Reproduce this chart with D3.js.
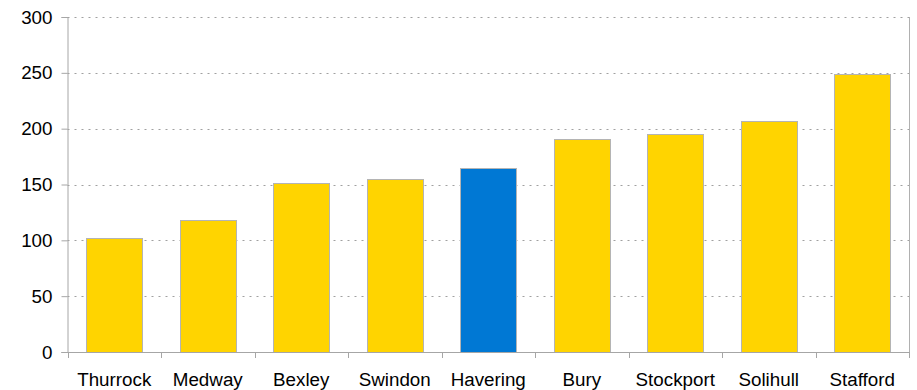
<!DOCTYPE html>
<html>
<head>
<meta charset="utf-8">
<script src="https://cdn.jsdelivr.net/npm/d3@7"></script>
<style>
  html, body { margin: 0; padding: 0; background: #fff; }
  svg { display: block; font-family: "Liberation Sans", Arial, sans-serif; }
</style>
</head>
<body>
<svg id="chart" width="917" height="390"></svg>
<script>
// Areas and their values
const categories = ["Thurrock", "Medway", "Bexley", "Swindon", "Havering", "Bury", "Stockport", "Solihull", "Stafford"];
const values = [102, 118, 151, 155, 165, 191, 195, 207, 249];
const highlight = "Havering";
const yTicks = [0, 50, 100, 150, 200, 250, 300];

const svg = d3.select("#chart");
const margin = { left: 67.5, right: 8, top: 17, bottom: 38 };
const W = 917, H = 390;
const fontSize = "18.8px";

const x = d3.scaleBand()
  .domain(categories)
  .range([margin.left, W - margin.right])
  .paddingInner(0.4)
  .paddingOuter(0.2);

const y = d3.scaleLinear()
  .domain([0, 300])
  .range([H - margin.bottom, margin.top]);

const axisColor = "#a6a6a6";

// Dotted gridlines
svg.append("g")
  .selectAll("line")
  .data(yTicks.filter(d => d > 0))
  .join("line")
  .attr("x1", margin.left)
  .attr("x2", W - margin.right)
  .attr("y1", d => Math.round(y(d)) + 0.5)
  .attr("y2", d => Math.round(y(d)) + 0.5)
  .attr("stroke", "#a0a0a0")
  .attr("stroke-width", 1)
  .attr("stroke-dasharray", "2,5");

// Right edge of plot area
svg.append("line")
  .attr("x1", W - margin.right + 0.5)
  .attr("x2", W - margin.right + 0.5)
  .attr("y1", y(300))
  .attr("y2", y(0))
  .attr("stroke", "#b0b0b0");

// Bars
svg.append("g")
  .selectAll("rect")
  .data(categories)
  .join("rect")
  .attr("x", d => Math.round(x(d)) + 0.5)
  .attr("y", (d, i) => Math.round(y(values[i])) + 0.5)
  .attr("width", Math.round(x.bandwidth()))
  .attr("height", (d, i) => Math.round(y(0)) - Math.round(y(values[i])))
  .attr("fill", d => d === highlight ? "#0078d4" : "#ffd400")
  .attr("stroke", "#b4b4b4")
  .attr("stroke-width", 1);

// Y axis
const yAxis = svg.append("g")
  .attr("transform", `translate(${margin.left},0)`)
  .call(d3.axisLeft(y).tickValues(yTicks).tickSize(6).tickPadding(9));
yAxis.attr("font-size", null).attr("font-family", null);
yAxis.select(".domain").attr("stroke", axisColor);
yAxis.selectAll(".tick line").attr("stroke", axisColor);
yAxis.selectAll(".tick text")
  .attr("fill", "#000")
  .style("font-size", fontSize)
  .style("font-family", "'Liberation Sans', Arial, sans-serif");

// X axis with ticks between categories
const boundaries = d3.range(categories.length + 1).map(i => margin.left + i * (W - margin.right - margin.left) / categories.length);
const xg = svg.append("g");
xg.append("line")
  .attr("x1", margin.left - 6)
  .attr("x2", W - margin.right)
  .attr("y1", Math.round(y(0)) + 0.5)
  .attr("y2", Math.round(y(0)) + 0.5)
  .attr("stroke", axisColor);
xg.selectAll("line.tick")
  .data(boundaries)
  .join("line")
  .attr("class", "tick")
  .attr("x1", d => Math.round(d) + 0.5)
  .attr("x2", d => Math.round(d) + 0.5)
  .attr("y1", Math.round(y(0)))
  .attr("y2", Math.round(y(0)) + 6)
  .attr("stroke", axisColor);
xg.selectAll("text")
  .data(categories)
  .join("text")
  .attr("x", d => x(d) + x.bandwidth() / 2)
  .attr("y", 385.5)
  .attr("text-anchor", "middle")
  .style("font-size", fontSize)
  .attr("fill", "#000")
  .text(d => d);
</script>
</body>
</html>
